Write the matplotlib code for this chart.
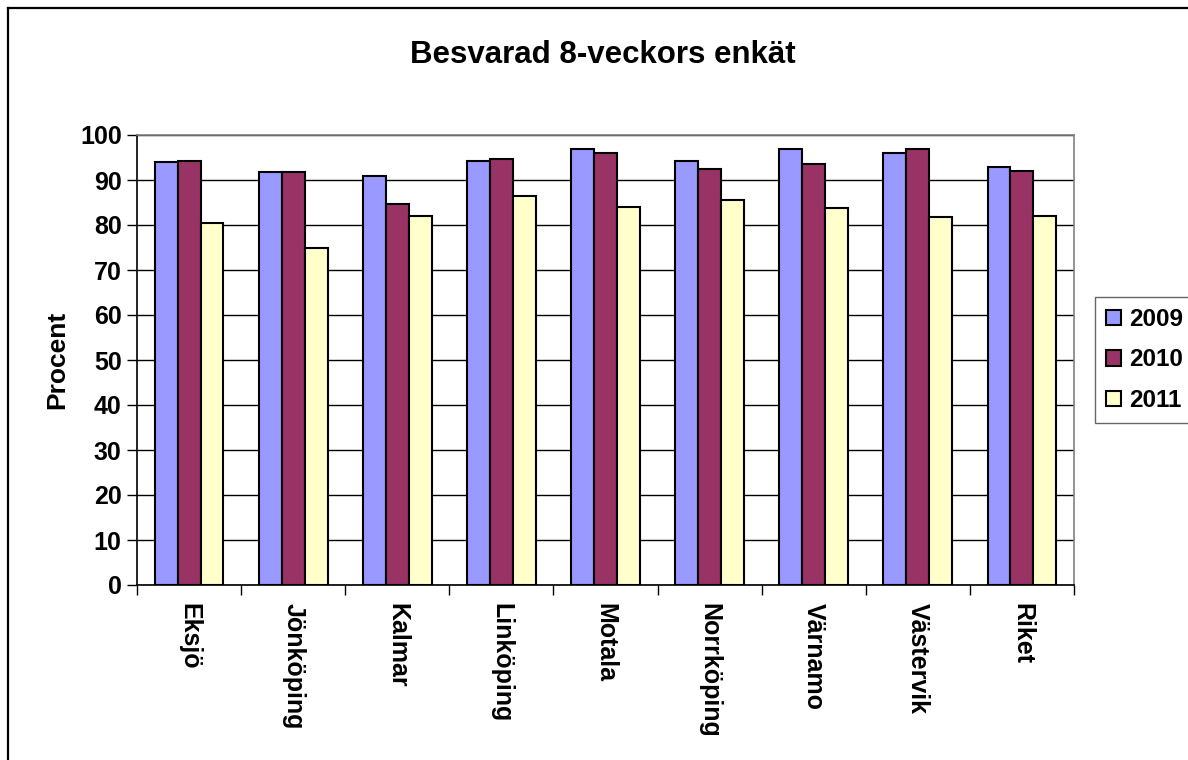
import matplotlib
matplotlib.use('Agg')
import matplotlib.pyplot as plt
from matplotlib.lines import Line2D
import numpy as np

plt.rcParams['font.family'] = ['Liberation Sans', 'DejaVu Sans']
plt.rcParams['font.weight'] = 'bold'

# Kommuner
kommuner = ['Eksjö', 'Jönköping', 'Kalmar', 'Linköping', 'Motala',
            'Norrköping', 'Värnamo', 'Västervik', 'Riket']

# Andel besvarade (%) per år
v2009 = [94, 91.7, 90.8, 94.3, 96.9, 94.3, 96.9, 96.1, 93.0]
v2010 = [94.3, 91.7, 84.7, 94.7, 96.1, 92.5, 93.5, 96.9, 92.1]
v2011 = [80.4, 74.8, 82.1, 86.4, 83.9, 85.6, 83.8, 81.7, 82.1]

years = ['2009', '2010', '2011']
colors = ['#9999FF', '#993366', '#FFFFCC']

W, H = 1188, 760
fig = plt.figure(figsize=(W / 100, H / 100), dpi=100)
ax = fig.add_axes([137 / W, 1 - 585 / H, (1074 - 137) / W, (585 - 135) / H])

x = np.arange(len(kommuner))
w = 0.22
for i, (vals, col, lab) in enumerate(zip([v2009, v2010, v2011], colors, years)):
    ax.bar(x + (i - 1) * w, vals, width=w, color=col, edgecolor='black',
           linewidth=1.5, label=lab, zorder=3)

ax.set_xlim(-0.5, len(kommuner) - 0.5)
ax.set_ylim(0, 100)
ax.set_yticks(np.arange(0, 101, 10))
ax.yaxis.grid(True, color='black', linewidth=1.0, zorder=0)
ax.set_axisbelow(True)

# kategorietiketter mitt under grupperna, streck mellan grupperna
ax.set_xticks(x)
ax.set_xticklabels(kommuner, rotation=270, fontsize=18, fontweight='bold')
ax.set_xticks(np.arange(-0.5, len(kommuner), 1), minor=True)
ax.tick_params(axis='x', which='major', length=0, pad=13)
ax.tick_params(axis='x', which='minor', length=7, width=1, color='black', direction='out')
ax.tick_params(axis='y', length=7, width=1, labelsize=18, pad=4)
for t in ax.get_yticklabels():
    t.set_fontweight('bold')

ax.spines['left'].set_color('black')
ax.spines['bottom'].set_color('black')
ax.spines['top'].set_color('#808080')
ax.spines['right'].set_color('#808080')
for s in ax.spines.values():
    s.set_linewidth(1.2)

ax.set_ylabel('Procent', fontsize=19, fontweight='bold', labelpad=8)

fig.text(603 / W, 1 - 55 / H, 'Besvarad 8-veckors enkät', ha='center', va='center',
         fontsize=22.5, fontweight='bold')

leg = ax.legend(loc='upper left', bbox_to_anchor=(1095 / W, 1 - 297 / H),
                bbox_transform=fig.transFigure, borderaxespad=0,
                handlelength=0.6, handleheight=0.6, handletextpad=0.35,
                labelspacing=0.72, borderpad=0.45, fancybox=False, frameon=True,
                prop={'weight': 'bold', 'size': 17.5})
leg.get_frame().set_edgecolor('#404040')
leg.get_frame().set_linewidth(1.0)

# ram runt diagrammet (vänster och överkant syns)
fig.add_artist(Line2D([7.5 / W, 7.5 / W], [0, 1 - 7.5 / H], transform=fig.transFigure,
                      color='black', linewidth=1.6))
fig.add_artist(Line2D([7.5 / W, 1], [1 - 7.5 / H, 1 - 7.5 / H], transform=fig.transFigure,
                      color='black', linewidth=1.6))

fig.savefig('out.png', dpi=100)
